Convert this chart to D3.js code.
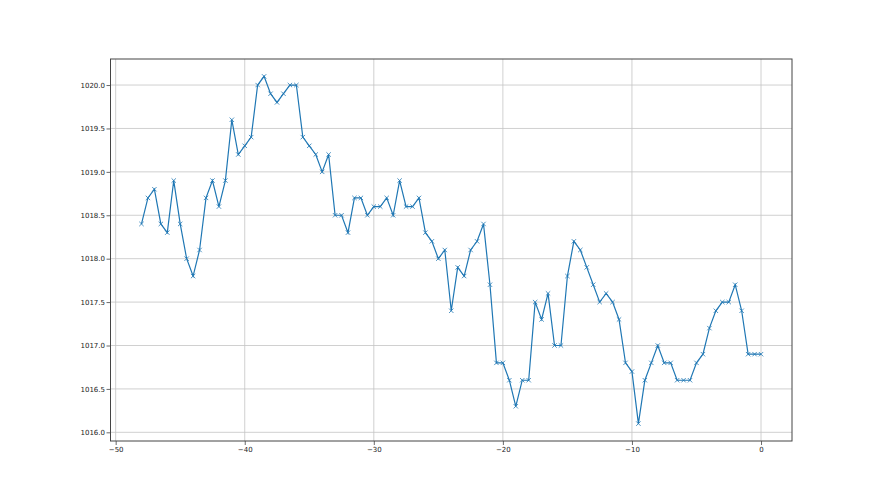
<!DOCTYPE html>
<html>
<head>
<meta charset="utf-8">
<script src="https://cdn.jsdelivr.net/npm/d3@7"></script>
<style>
  body { margin: 0; background: #fff; }
  svg { display: block; font-family: "DejaVu Sans", sans-serif; }
</style>
</head>
<body>
<svg></svg>
<script>
// hours before now, step 0.5, from -48 to 0
var hours = d3.range(-48, 0.25, 0.5);
var pressure = [
  1018.4, 1018.7, 1018.8, 1018.4, 1018.3, 1018.9, 1018.4, 1018.0, 1017.8, 1018.1,
  1018.7, 1018.9, 1018.6, 1018.9, 1019.6, 1019.2, 1019.3, 1019.4, 1020.0, 1020.1,
  1019.9, 1019.8, 1019.9, 1020.0, 1020.0, 1019.4, 1019.3, 1019.2, 1019.0, 1019.2,
  1018.5, 1018.5, 1018.3, 1018.7, 1018.7, 1018.5, 1018.6, 1018.6, 1018.7, 1018.5,
  1018.9, 1018.6, 1018.6, 1018.7, 1018.3, 1018.2, 1018.0, 1018.1, 1017.4, 1017.9,
  1017.8, 1018.1, 1018.2, 1018.4, 1017.7, 1016.8, 1016.8, 1016.6, 1016.3, 1016.6,
  1016.6, 1017.5, 1017.3, 1017.6, 1017.0, 1017.0, 1017.8, 1018.2, 1018.1, 1017.9,
  1017.7, 1017.5, 1017.6, 1017.5, 1017.3, 1016.8, 1016.7, 1016.1, 1016.6, 1016.8,
  1017.0, 1016.8, 1016.8, 1016.6, 1016.6, 1016.6, 1016.8, 1016.9, 1017.2, 1017.4,
  1017.5, 1017.5, 1017.7, 1017.4, 1016.9, 1016.9, 1016.9
];
var xTicks = [-50, -40, -30, -20, -10, 0];
var yTicks = [1016.0, 1016.5, 1017.0, 1017.5, 1018.0, 1018.5, 1019.0, 1019.5, 1020.0];

var data = hours.map(function(h, i) { return [h, pressure[i]]; });

var svg_width = 880;
var svg_height = 495;
var margin = { top: 59, right: 88, bottom: 54, left: 110.5 };
var width = svg_width - margin.left - margin.right;
var height = svg_height - margin.top - margin.bottom;

var svg = d3.select('svg')
  .attr("width", svg_width)
  .attr("height", svg_height);

var group = svg.append("g")
  .attr("transform", "translate(" + margin.left + "," + margin.top + ")");

// matplotlib-style 5% padding
var xExt = d3.extent(hours), yExt = d3.extent(pressure);
var xPad = (xExt[1] - xExt[0]) * 0.05, yPad = (yExt[1] - yExt[0]) * 0.05;
var x = d3.scaleLinear().domain([xExt[0] - xPad, xExt[1] + xPad]).range([0, width]);
var y = d3.scaleLinear().domain([yExt[0] - yPad, yExt[1] + yPad]).range([height, 0]);

// grid
group.append("g")
  .selectAll("line.vg")
  .data(xTicks)
  .enter().append("line")
  .attr("x1", function(d) { return x(d); })
  .attr("x2", function(d) { return x(d); })
  .attr("y1", 0).attr("y2", height)
  .attr("stroke", "#c4c4c4").attr("stroke-width", 0.8);
group.append("g")
  .selectAll("line.hg")
  .data(yTicks)
  .enter().append("line")
  .attr("y1", function(d) { return y(d); })
  .attr("y2", function(d) { return y(d); })
  .attr("x1", 0).attr("x2", width)
  .attr("stroke", "#c4c4c4").attr("stroke-width", 0.8);

var line = d3.line()
  .x(function(d) { return x(d[0]); })
  .y(function(d) { return y(d[1]); });

group.append("path")
  .datum(data)
  .attr("fill", "none")
  .attr("stroke", "#1f77b4")
  .attr("stroke-width", 1.2)
  .attr("d", line);

var m = 2.2;
group.append("g")
  .selectAll("path.mk")
  .data(data)
  .enter().append("path")
  .attr("d", function(d) {
    var cx = x(d[0]), cy = y(d[1]);
    return "M" + (cx - m) + "," + (cy - m) + "L" + (cx + m) + "," + (cy + m) +
           "M" + (cx - m) + "," + (cy + m) + "L" + (cx + m) + "," + (cy - m);
  })
  .attr("stroke", "#1f77b4")
  .attr("stroke-width", 0.8)
  .attr("fill", "none");

var xAxis = group.append("g")
  .attr("transform", "translate(0," + height + ")")
  .call(d3.axisBottom(x).tickValues(xTicks).tickFormat(d3.format("d")).tickSize(4).tickPadding(2));
var yAxis = group.append("g")
  .call(d3.axisLeft(y).tickValues(yTicks).tickFormat(d3.format(".1f")).tickSize(4).tickPadding(1.5));

[xAxis, yAxis].forEach(function(a) {
  a.select(".domain").remove();
  a.selectAll("text").attr("fill", "#222").style("font-size", "7px").style("font-family", "DejaVu Sans, sans-serif");
  a.selectAll("line").attr("stroke", "#444").attr("stroke-width", 0.8);
});

// frame
group.append("rect")
  .attr("width", width).attr("height", height)
  .attr("fill", "none")
  .attr("stroke", "#444")
  .attr("stroke-width", 1);
</script>
</body>
</html>
